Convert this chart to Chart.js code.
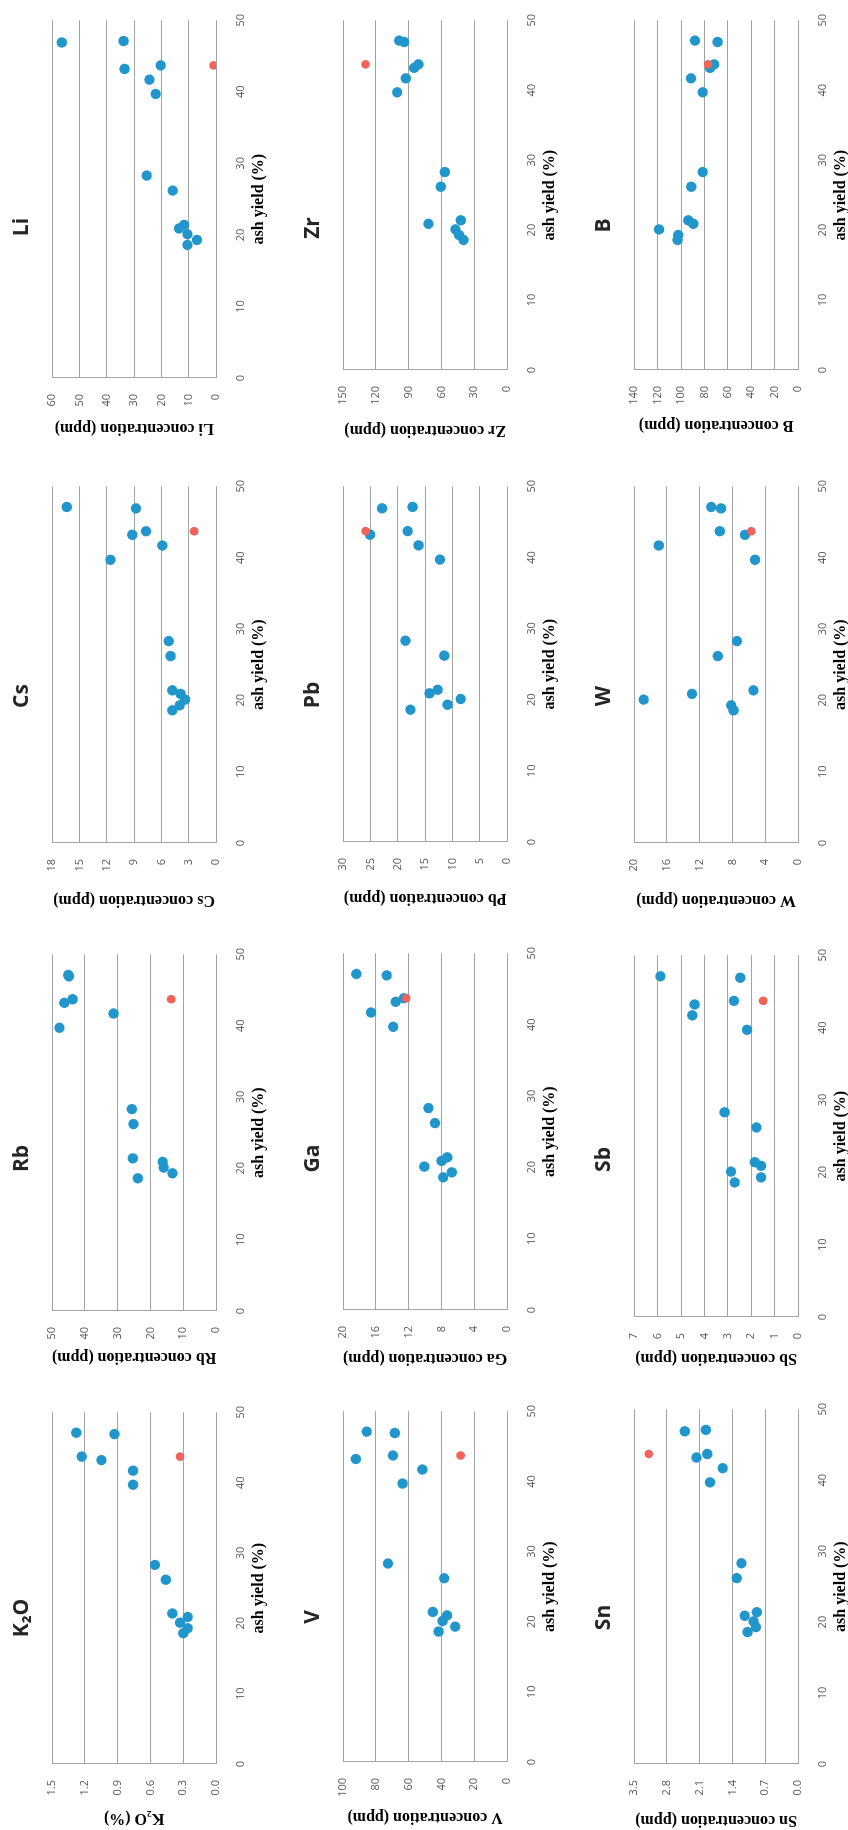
<!DOCTYPE html>
<html>
<head>
<meta charset="utf-8">
<title>Trace elements vs ash yield</title>
<script src="https://cdn.jsdelivr.net/npm/chart.js@4.4.1/dist/chart.umd.min.js"></script>
<style>
  html, body { margin: 0; padding: 0; background: #fff; overflow: hidden; }
  #page { position: relative; width: 848px; height: 1830px; overflow: hidden; }
  /* the figure is laid out landscape, then turned a quarter turn counter-clockwise */
  #sheet { position: absolute; left: 0; top: 0; width: 1830px; height: 848px;
           transform-origin: 0 0; transform: translate(0, 1830px) rotate(-90deg); }
  #sheet canvas { position: absolute; }
</style>
</head>
<body>
<div id="page"><div id="sheet"></div></div>
<script>
// ash yield (%) of the 13 samples (x of every panel)
const ashYield = [47.1, 46.9, 43.7, 43.2, 41.7, 39.7, 28.3, 26.2, 21.4, 20.9, 20.1, 19.3, 18.6];
// the single red reference point
const refAshYield = 43.7;

const elements = ['K₂O', 'Rb', 'Cs', 'Li', 'V', 'Ga', 'Pb', 'Zr', 'Sn', 'Sb', 'W', 'B'];
const yTitles = ['K₂O (%)', 'Rb concentration (ppm)', 'Cs concentration (ppm)', 'Li concentration (ppm)',
  'V concentration (ppm)', 'Ga concentration (ppm)', 'Pb concentration (ppm)', 'Zr concentration (ppm)',
  'Sn concentration (ppm)', 'Sb concentration (ppm)', 'W concentration (ppm)', 'B concentration (ppm)'];

// concentrations, same sample order as ashYield
const k2oPct = [1.28, 0.93, 1.23, 1.05, 0.76, 0.76, 0.56, 0.46, 0.40, 0.26, 0.33, 0.26, 0.30];
const rbPpm = [45.1, 44.9, 43.8, 46.3, 31.3, 47.8, 25.7, 25.2, 25.4, 16.3, 16.0, 13.3, 23.9];
const csPpm = [16.4, 8.8, 7.7, 9.2, 5.9, 11.6, 5.2, 5.0, 4.8, 3.9, 3.4, 4.0, 4.8];
const liPpm = [33.9, 56.5, 20.3, 33.5, 24.4, 22.1, 25.4, 15.9, 11.7, 13.6, 10.5, 7.0, 10.5];
const vPpm = [85.7, 68.5, 69.7, 92.3, 51.7, 63.8, 72.7, 38.4, 45.3, 36.6, 39.4, 31.7, 41.8];
const gaPpm = [18.4, 14.7, 12.6, 13.6, 16.6, 13.9, 9.6, 8.8, 7.3, 8.0, 10.1, 6.75, 7.8];
const pbPpm = [17.3, 22.9, 18.2, 25.1, 16.2, 12.3, 18.6, 11.5, 12.7, 14.2, 8.5, 10.9, 17.7];
const zrPpm = [98.8, 94.2, 81.1, 85.1, 92.7, 100.6, 57.0, 60.7, 42.4, 72.0, 47.3, 43.9, 39.9];
const snPpm = [1.97, 2.42, 1.94, 2.17, 1.61, 1.88, 1.21, 1.31, 0.88, 1.14, 0.95, 0.90, 1.08];
const sbPpm = [5.88, 2.47, 2.74, 4.42, 4.52, 2.18, 3.14, 1.78, 1.85, 1.58, 2.87, 1.58, 2.71];
const wPpm = [10.6, 9.4, 9.55, 6.48, 17.0, 5.25, 7.46, 9.8, 5.45, 12.95, 18.85, 8.16, 7.87];
const bPpm = [88.1, 68.8, 71.7, 75.2, 91.5, 81.5, 81.5, 91.2, 93.8, 89.5, 118.8, 102.4, 103.0];
// red point value per panel, same order as elements
const refValues = [0.33, 13.7, 2.4, 0.9, 28.3, 12.3, 25.9, 129.6, 3.19, 1.49, 5.7, 76.9];

// y axis ticks per panel
const yMax = [1.5, 50, 18, 60, 100, 20, 30, 150, 3.5, 7, 20, 140];
const yStep = [0.3, 10, 3, 10, 20, 4, 5, 30, 0.7, 1, 4, 20];
const yDecimals = [1, 0, 0, 0, 0, 0, 0, 0, 1, 0, 0, 0];

const series = [k2oPct, rbPpm, csPpm, liPpm, vPpm, gaPpm, pbPpm, zrPpm, snPpm, sbPpm, wPpm, bPpm];

// panel placement in the landscape sheet (px)
const rowTop = [0, 291, 582];
const canvasLeft = [2, 463, 920, 1392, 3, 462, 922, 1390, 0, 462, 920, 1395];
const plotLeft = [66, 519, 987, 1452, 68, 520, 988, 1460, 66, 513, 987, 1460];
const plotRight = [422, 880, 1348, 1814, 423, 881, 1348, 1814, 425, 879, 1348, 1814];
const canvasHeight = 270;
const rightPad = 12;

const blue = '#2196cc';
const red = '#f0625a';
const gridGray = '#a3a3a3';
const tickFont = { family: "'Open Sans', sans-serif", size: 11 };
const serifBold = { family: "'Liberation Serif', 'Times New Roman', serif", size: 16, weight: 'bold', lineHeight: 1.2 };

const sheet = document.getElementById('sheet');

series.forEach((values, i) => {
  const row = Math.floor(i / 4);
  const left = canvasLeft[i];
  const width = plotRight[i] + rightPad - left;
  const yAxisWidth = plotLeft[i] - left;

  const canvas = document.createElement('canvas');
  canvas.width = width;
  canvas.height = canvasHeight;
  canvas.style.left = left + 'px';
  canvas.style.top = rowTop[row] + 'px';
  canvas.style.width = width + 'px';
  canvas.style.height = canvasHeight + 'px';
  sheet.appendChild(canvas);

  new Chart(canvas.getContext('2d'), {
    type: 'scatter',
    data: {
      datasets: [
        {
          data: values.map((y, k) => ({ x: ashYield[k], y: y })),
          backgroundColor: blue,
          borderWidth: 0,
          pointRadius: 5.2,
          order: 1,
        },
        {
          data: [{ x: refAshYield, y: refValues[i] }],
          backgroundColor: red,
          borderWidth: 0,
          pointRadius: 4.3,
          order: 0,
        },
      ],
    },
    options: {
      responsive: false,
      animation: false,
      events: [],
      layout: { padding: { left: 0, right: rightPad, top: 0, bottom: 0 } },
      plugins: {
        legend: { display: false },
        tooltip: { enabled: false },
        title: {
          display: true,
          text: elements[i],
          color: '#262626',
          font: { family: "'Open Sans', sans-serif", size: 21, weight: 'bold', lineHeight: 1.2 },
          padding: { top: 9, bottom: 18 },
        },
      },
      scales: {
        x: {
          type: 'linear',
          min: 0,
          max: 50,
          ticks: { stepSize: 10, padding: 10, color: '#595959', font: tickFont },
          grid: { display: false },
          border: { display: false },
          title: { display: true, text: 'ash yield (%)', color: '#000', font: serifBold, padding: { top: 0, bottom: 2 } },
          afterFit: (scale) => { scale.height = 54; },
        },
        y: {
          type: 'linear',
          min: 0,
          max: yMax[i],
          ticks: {
            stepSize: yStep[i],
            padding: 16,
            color: '#595959',
            font: tickFont,
            callback: (val) => Number(val).toFixed(yDecimals[i]),
          },
          grid: { color: gridGray, lineWidth: 1, drawTicks: false },
          border: { display: true, color: gridGray, width: 1 },
          title: { display: true, text: yTitles[i], color: '#000', font: serifBold, padding: { top: 0, bottom: 0 } },
          afterFit: (scale) => { scale.width = yAxisWidth; },
        },
      },
    },
  });
});
</script>
</body>
</html>
